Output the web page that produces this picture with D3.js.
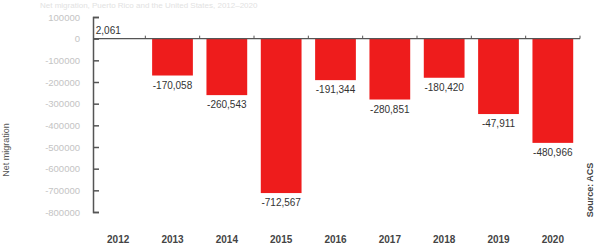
<!DOCTYPE html>
<html>
<head>
<meta charset="utf-8">
<script src="https://cdn.jsdelivr.net/npm/d3@7"></script>
<style>
  body { margin: 0; background: #fff; }
  svg { display: block; font-family: "Liberation Sans Narrow", "Liberation Sans", sans-serif; }
</style>
</head>
<body>
<svg id="chart" width="597" height="249"></svg>
<script>
// values
const years = ["2012", "2013", "2014", "2015", "2016", "2017", "2018", "2019", "2020"];
const values = [2061, -170058, -260543, -712567, -191344, -280851, -180420, -347911, -480966];
const valueLabels = ["2,061", "-170,058", "-260,543", "-712,567", "-191,344", "-280,851", "-180,420", "-47,911", "-480,966"];
const yTicks = [100000, 0, -100000, -200000, -300000, -400000, -500000, -600000, -700000, -800000];

const svg = d3.select("#chart");
const margin = {top: 17, left: 93, right: 17, bottom: 37};
const width = 597, height = 249;

const x = d3.scaleBand()
  .domain(years)
  .range([91, 580])
  .paddingInner(0.25)
  .paddingOuter(0.125);

const y = d3.scaleLinear()
  .domain([100000, -800000])
  .range([margin.top, height - margin.bottom]);

// faint title at the top
svg.append("text")
  .attr("x", 40).attr("y", 8)
  .attr("fill", "#e2e2e2").attr("font-size", 8)
  .text("Net migration, Puerto Rico and the United States, 2012–2020");

// left axis
const yAxis = svg.append("g")
  .attr("transform", `translate(${margin.left},0)`)
  .call(d3.axisRight(y).tickValues(yTicks).tickSize(6).tickFormat(""));
yAxis.select(".domain").attr("stroke", "#555").attr("stroke-width", 1.5);
yAxis.selectAll(".tick line").attr("stroke", "#555").attr("stroke-width", 1.5);

svg.append("g").selectAll("text")
  .data(yTicks)
  .join("text")
  .attr("x", 80)
  .attr("y", d => y(d) + 3.5)
  .attr("text-anchor", "end")
  .attr("fill", "#c4c4c4")
  .attr("font-size", 9.5)
  .text(d => d);

// bars
svg.append("g").selectAll("rect")
  .data(values)
  .join("rect")
  .attr("x", (d, i) => x(years[i]))
  .attr("width", x.bandwidth())
  .attr("y", d => y(Math.max(0, d)))
  .attr("height", d => Math.abs(y(d) - y(0)))
  .attr("fill", "#ee1c1c");

// zero line with small ticks between bars
const gaps = years.slice(1).map(d => x(d) - x.step() * x.paddingInner() / 2);
gaps.push(x(years[years.length - 1]) + x.bandwidth() + x.step() * x.paddingInner() / 2);
svg.append("line")
  .attr("x1", margin.left).attr("x2", gaps[gaps.length - 1])
  .attr("y1", y(0)).attr("y2", y(0))
  .attr("stroke", "#555").attr("stroke-width", 1.2);
svg.append("g").selectAll("line")
  .data(gaps)
  .join("line")
  .attr("x1", d => d).attr("x2", d => d)
  .attr("y1", y(0) - 3).attr("y2", y(0))
  .attr("stroke", "#555");

// value labels
svg.append("g").selectAll("text")
  .data(values)
  .join("text")
  .attr("x", (d, i) => i === 0 ? x(years[i]) - 2 : x(years[i]) + x.bandwidth() / 2)
  .attr("y", d => d >= 0 ? y(d) - 4 : y(d) + 13)
  .attr("text-anchor", (d, i) => i === 0 ? "start" : "middle")
  .attr("fill", "#333")
  .attr("font-size", 10)
  .text((d, i) => valueLabels[i]);

// year labels
svg.append("g").selectAll("text")
  .data(years)
  .join("text")
  .attr("x", d => x(d) + x.bandwidth() / 2)
  .attr("y", 243)
  .attr("text-anchor", "middle")
  .attr("fill", "#444")
  .attr("font-size", 10)
  .attr("font-weight", "bold")
  .text(d => d);

// side titles
svg.append("text")
  .attr("transform", "translate(9,150) rotate(-90)")
  .attr("text-anchor", "middle")
  .attr("fill", "#555").attr("font-size", 9)
  .text("Net migration");
svg.append("text")
  .attr("transform", "translate(593,190) rotate(-90)")
  .attr("text-anchor", "middle")
  .attr("fill", "#444").attr("font-size", 9).attr("font-weight", "bold")
  .text("Source: ACS");
</script>
</body>
</html>
